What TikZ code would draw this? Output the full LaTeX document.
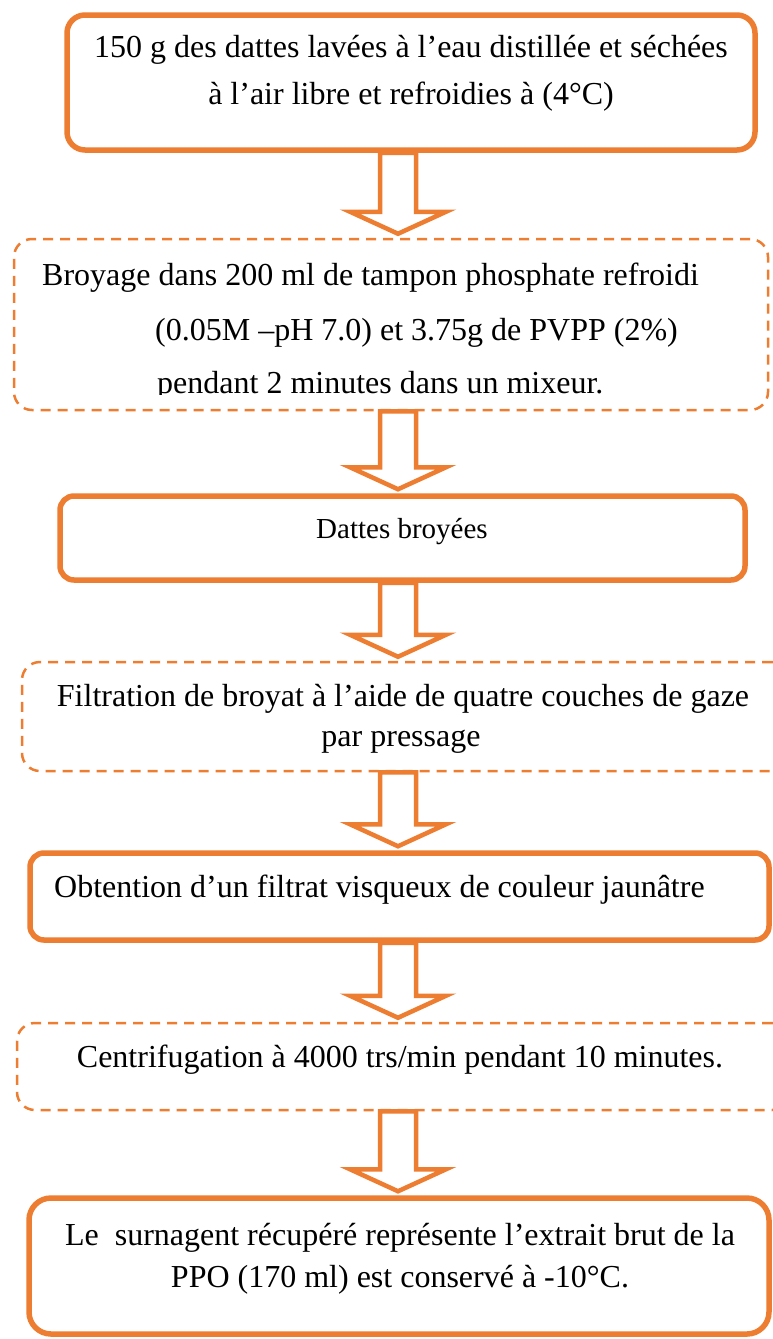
\documentclass[tikz,border=0pt]{standalone}
\usepackage{fontspec}
\setmainfont{Liberation Serif}
\usetikzlibrary{calc}
\definecolor{orng}{HTML}{ED7D31}
\tikzset{
  solidbox/.style={draw=orng, line width=5.5pt, rounded corners=18pt, inner sep=0pt},
  dashbox/.style={draw=orng, line width=2.5pt, rounded corners=18pt, inner sep=0pt, dash pattern=on 10pt off 7pt},
  txt/.style={inner sep=0pt, font=\fontsize{32}{40}\selectfont, text=black},
  smalltxt/.style={inner sep=0pt, font=\fontsize{29}{36}\selectfont, text=black},
  blockarr/.style={draw=orng, fill=white, line width=4.5pt, line join=miter}
}
\newcommand\blockarrow[2]{%
  \draw[blockarr] ($(#1)+(-18,0)$) -- ($(#2)+(-18,-26)$) -- ($(#2)+(-48,-26)$)
    -- ($(#2)+(0,-4)$) -- ($(#2)+(48,-26)$) -- ($(#2)+(18,-26)$)
    -- ($(#1)+(18,0)$) -- cycle;}
\begin{document}
\begin{tikzpicture}[x=1pt,y=-1pt]
\useasboundingbox (0,0) rectangle (773,1339);
\clip (0,0) rectangle (773,1339);
\coordinate (ax) at (398,0);
% boxes
\node[solidbox, minimum width=688pt, minimum height=135pt] (b1) at (411,82.5) {};
\node[dashbox,  minimum width=754pt, minimum height=171pt] (b2) at (391,324.5) {};
\node[solidbox, minimum width=685pt, minimum height=84pt, rounded corners=14pt] (b3) at (402.5,538) {};
\node[dashbox,  minimum width=768pt, minimum height=109pt] (b4) at (406,716.5) {};
\node[solidbox, minimum width=739pt, minimum height=87pt, rounded corners=14pt] (b5) at (399.5,896.5) {};
\node[dashbox,  minimum width=773pt, minimum height=87pt] (b6) at (403.5,1066.5) {};
\node[solidbox, minimum width=740pt, minimum height=136pt, rounded corners=22pt] (b7) at (399,1266) {};
% arrows
\foreach \i/\j in {b1/b2,b2/b3,b3/b4,b4/b5,b5/b6,b6/b7}{
  \coordinate (s-\i) at (\i.south -| ax);
  \coordinate (e-\i) at (\j.north -| ax);
  \blockarrow{s-\i}{e-\i}
}
% texts
\node[txt, anchor=base] (t1a) at (411,57) {150 g des dattes lavées à l’eau distillée et séchées};
\node[txt, anchor=base] (t1b) at (411,104) {à l’air libre et refroidies à (4°C)};
\node[txt, anchor=base west] (t2a) at (42,285) {Broyage dans 200 ml de tampon phosphate refroidi};
\node[txt, anchor=base west] (t2b) at (155,340) {(0.05M –pH 7.0) et 3.75g de PVPP (2\%)};
\begin{scope}
\clip (0,300) rectangle (773,394);
\node[txt, anchor=base west] (t2c) at (157,393) {pendant 2 minutes dans un mixeur.};
\end{scope}
\node[smalltxt, anchor=base] (t3) at (402,538) {Dattes broyées};
\node[txt, anchor=base] (t4a) at (403,706) {Filtration de broyat à l’aide de quatre couches de gaze};
\node[txt, anchor=base] (t4b) at (401,746) {par pressage};
\node[txt, anchor=base west] (t5) at (54,897) {Obtention d’un filtrat visqueux de couleur jaunâtre};
\node[txt, anchor=base] (t6) at (400,1067) {Centrifugation à 4000 trs/min pendant 10 minutes.};
\node[txt, anchor=base] (t7a) at (400,1245) {Le\ \ surnagent récupéré représente l’extrait brut de la};
\node[txt, anchor=base] (t7b) at (400,1287) {PPO (170 ml) est conservé à -10°C.};
\end{tikzpicture}
\end{document}
